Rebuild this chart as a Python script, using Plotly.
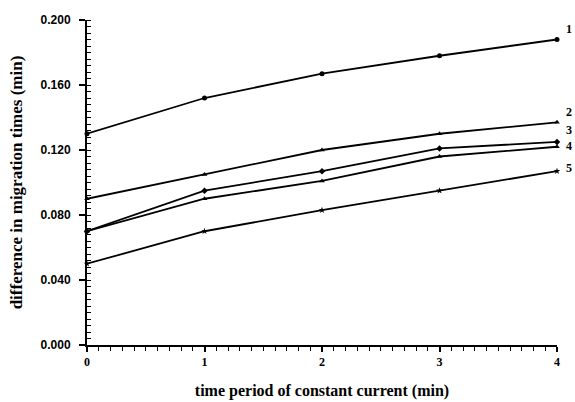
import plotly.graph_objects as go

x_vals = [0, 1, 2, 3, 4]
series_names = ["1", "2", "3", "4", "5"]
s1 = [0.130, 0.152, 0.167, 0.178, 0.188]
s2 = [0.090, 0.105, 0.120, 0.130, 0.137]
s3 = [0.070, 0.095, 0.107, 0.121, 0.125]
s4 = [0.070, 0.090, 0.101, 0.116, 0.122]
s5 = [0.050, 0.070, 0.083, 0.095, 0.107]
series = [s1, s2, s3, s4, s5]
markers = ["circle", "triangle-up", "diamond", "triangle-up", "star"]
label_shift = [11, 10, 12, 1, 3]

y_ticks = [0.0, 0.04, 0.08, 0.12, 0.16, 0.2]
y_ticktext = ["<b>0.000</b>", "<b>0.040</b>", "<b>0.080</b>", "<b>0.120</b>", "<b>0.160</b>", "<b>0.200</b>"]

fig = go.Figure()
for name, ys, m in zip(series_names, series, markers):
    fig.add_trace(go.Scatter(
        x=x_vals, y=ys, mode="lines+markers", name=name,
        line=dict(color="black", width=1.8),
        marker=dict(symbol=m, size=5, color="black"),
        showlegend=False, cliponaxis=False))

for name, ys, sh in zip(series_names, series, label_shift):
    fig.add_annotation(x=x_vals[-1], y=ys[-1], text="<b>%s</b>" % name,
                       xref="x", yref="y", xanchor="left", yanchor="middle",
                       xshift=7, yshift=sh, showarrow=False,
                       font=dict(family="Liberation Serif", size=12, color="black"))

fig.update_layout(
    width=575, height=402,
    margin=dict(l=87, r=18, t=20, b=57, autoexpand=False),
    plot_bgcolor="white", paper_bgcolor="white",
    xaxis=dict(range=[0, 4], tickvals=x_vals, ticktext=["<b>%d</b>" % v for v in x_vals],
               automargin=False,
               showgrid=False, zeroline=False, showline=True, linecolor="black", linewidth=2,
               ticks="outside", ticklen=5, tickwidth=1.5, tickcolor="black",
               minor=dict(dtick=0.1, ticks="outside", ticklen=4, tickcolor="black", tickwidth=1),
               tickfont=dict(family="Liberation Serif", size=12, color="black"),
               title=dict(text="<b>time period of constant current (min)</b>",
                          font=dict(family="Liberation Serif", size=16, color="black"), standoff=16)),
    yaxis=dict(range=[0, 0.2], tickvals=y_ticks, ticktext=y_ticktext,
               automargin=False,
               showgrid=False, zeroline=False, showline=True, linecolor="black", linewidth=2,
               ticks="outside", ticklen=6, tickwidth=1.5, tickcolor="black",
               ticklabelstandoff=6,
               minor=dict(dtick=0.004, ticks="inside", ticklen=4, tickcolor="black", tickwidth=1),
               tickfont=dict(family="Liberation Sans", size=12, color="black"),
               title=dict(text="<b>difference in migration times (min)</b>",
                          font=dict(family="Liberation Serif", size=17, color="black"), standoff=14)),
)

fig.write_html("out.html", config={"displayModeBar": False},
               post_script="document.body.style.margin='0';document.body.style.overflow='hidden';")
